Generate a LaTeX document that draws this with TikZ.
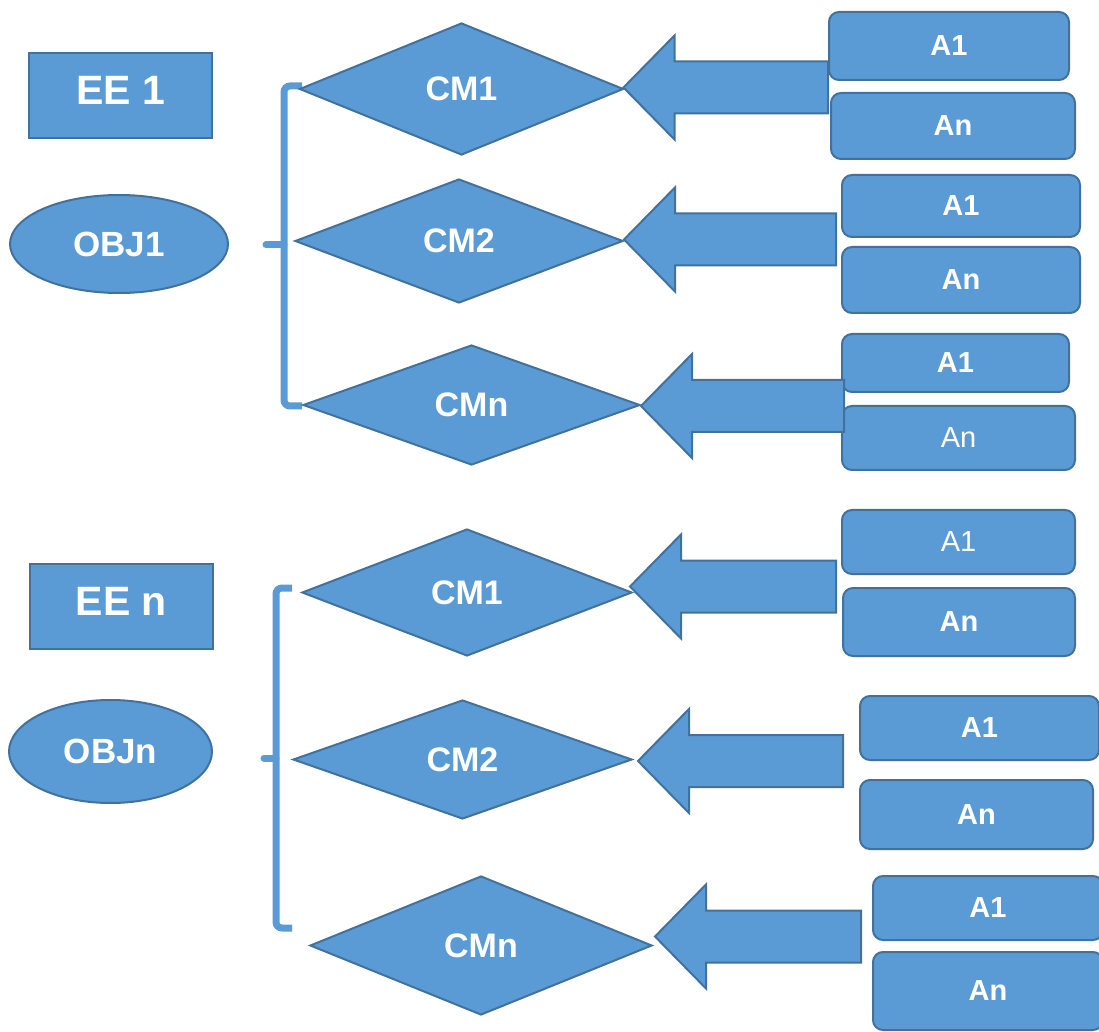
\documentclass[tikz,border=0pt]{standalone}
\usepackage{fontspec}
\setmainfont{Liberation Sans}
\usetikzlibrary{calc, shapes.geometric}
\definecolor{blaufill}{HTML}{5B9BD5}
\definecolor{blaurand}{HTML}{41719C}

\begin{document}
\begin{tikzpicture}[x=0.5pt, y=-0.5pt, % Pixelmass, y nach unten
  form/.style={draw=blaurand, fill=blaufill, line width=1pt, text=white, inner sep=0pt},
  ee/.style={form, rectangle, minimum width=91.5pt, minimum height=42.5pt, font=\bfseries\fontsize{20.5}{24}\selectfont},
  obj/.style={form, ellipse, font=\bfseries\fontsize{17.5}{21}\selectfont},
  raute/.style={form, diamond, font=\bfseries\fontsize{17}{20}\selectfont},
  kasten/.style={form, rectangle, rounded corners=5pt, font=\bfseries\fontsize{14.5}{17}\selectfont},
  blockpfeil/.style={draw=blaurand, fill=blaufill, line width=1pt, line join=miter},
  klammer/.style={draw=blaufill, line width=3.5pt, rounded corners=3pt}
]
\useasboundingbox (0,0) rectangle (1099,1032);

% Klammern
\draw[klammer] (302,86) -- (284,86) -- (284,406) -- (302,406);
\draw[klammer, line cap=round] (284,245) -- (266,245);
\draw[klammer] (292,588) -- (276,588) -- (276,928) -- (292,928);
\draw[klammer, line cap=round] (276,758) -- (264,758);

% EE und OBJ
\node[ee] (ee1) at (120.5,95.5) {\raisebox{2.5pt}[\height][\depth]{EE 1}};
\node[obj, minimum width=109pt, minimum height=49pt] (obj1) at (119,244) {OBJ1};
\node[ee] (een) at (121.5,606.5) {\raisebox{2.5pt}[\height][\depth]{EE n}};
\node[obj, minimum width=101.5pt, minimum height=51.5pt] (objn) at (110.5,751.5) {OBJn};

% Rauten
\foreach \name/\x/\y/\w/\h/\txt in {c11/461.5/89/324/132/CM1, c12/459/241/328/124/CM2, c1n/471.5/405/337/120/CMn,
    c21/467/592.5/330/127/CM1, c22/462.5/759.5/339/119/CM2, c2n/481/945.5/342/139/CMn} {
  \node[raute, minimum width=\w*0.5pt, minimum height=\h*0.5pt] (\name) at (\x,\y) {\txt};
}

% Kaesten rechts
\foreach \name/\x/\y/\w/\h/\txt in {a11/949/46/240/68/A1, n11/953/126/244/66/An,
    a12/961/206/238/62/A1, n12/961/280/238/66/An,
    a1n/955.5/363/227/58/A1, n1n/958.5/438/233/64/{\mdseries An},
    a21/958.5/542/233/64/{\mdseries A1}, n21/959/622/232/68/An,
    a22/979.5/728/239/64/A1, n22/976.5/814.5/233/69/An,
    a2n/988/908/230/64/A1, n2n/988/991/230/78/An} {
  \node[kasten, minimum width=\w*0.5pt, minimum height=\h*0.5pt] (\name) at (\x,\y) {\txt};
}

% Pfeilenden
\coordinate (t11) at (828,87.5);
\coordinate (t12) at (836,239.5);
\coordinate (t1n) at (844,406);
\coordinate (t21) at (836,586.5);
\coordinate (t22) at (843,761);
\coordinate (t2n) at (861,936.5);

% Blockpfeile
\foreach \d/\t/\dx in {c11/t11/-1, c12/t12/0, c1n/t1n/0, c21/t21/-3, c22/t22/5, c2n/t2n/2} {
  \draw[blockpfeil] let \p1=($(\d.east)+(\dx,0)$), \p2=(\t) in
    (\x1,\y2) -- ++(51,-52) -- ++(0,26) -- (\x2,\y2+13pt) -- (\x2,\y2-13pt)
    -- (\x1+25.5pt,\y2-13pt) -- ++(0,26) -- cycle;
}

\end{tikzpicture}
\end{document}
